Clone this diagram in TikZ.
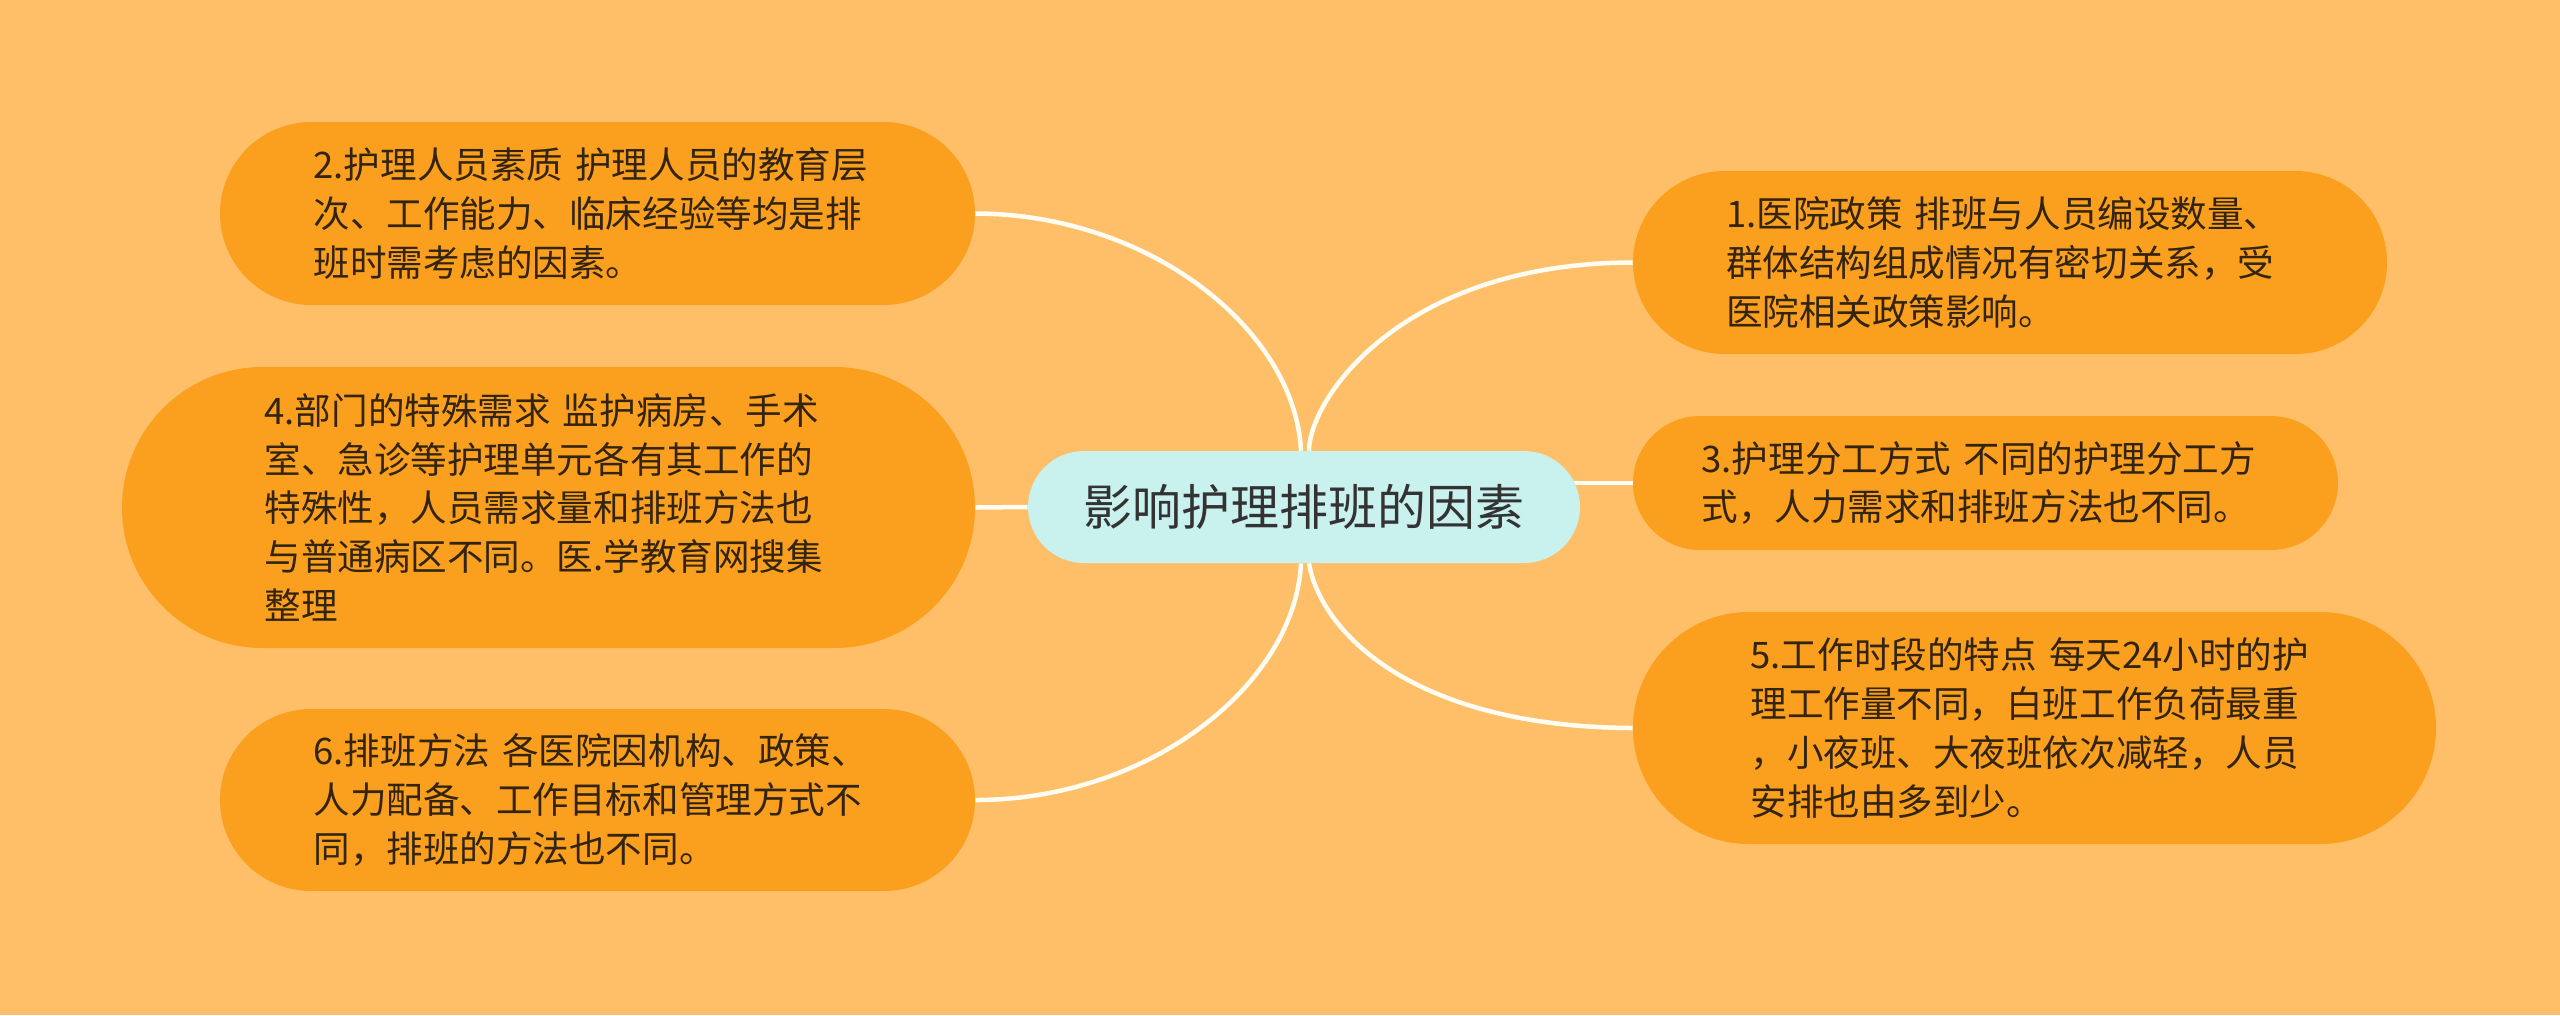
\documentclass[tikz,border=0pt]{standalone}
\usepackage{fontspec}
\usetikzlibrary{shapes.misc,backgrounds}
\newfontfamily\cjk{Noto Sans CJK SC}
\definecolor{bgc}{HTML}{FFBF69}
\definecolor{leafc}{HTML}{FAA01E}
\definecolor{rootc}{HTML}{C9F1EE}
\definecolor{txt}{HTML}{33240F}
\definecolor{roottxt}{HTML}{333333}
\definecolor{linkc}{HTML}{FFFCF2}
\begin{document}
\begin{tikzpicture}[x=0.25mm,y=-0.25mm,
 leaf/.style={rounded rectangle, fill=leafc, text=txt, font=\cjk\fontsize{26}{34.8}\selectfont, align=left, text width=142mm, inner sep=0pt},
 root/.style={rounded rectangle, fill=rootc, text=roottxt, font=\cjk\fontsize{34.8}{40}\selectfont, inner sep=0pt},
 link/.style={draw=linkc, line width=1.125mm}]
\useasboundingbox (0,0) rectangle (2560,1015);

\node[root, minimum width=138mm, minimum height=28mm] (c) at (1304,507) {影响护理排班的因素};

\node[leaf, minimum width=188.75mm, minimum height=45.75mm] (n2) at (597.5,213.5)
 {2.护理人员素质 护理人员的教育层\\次、工作能力、临床经验等均是排\\班时需考虑的因素。};
\node[leaf, minimum width=213.25mm, minimum height=70.25mm] (n4) at (548.5,507.5)
 {4.部门的特殊需求 监护病房、手术\\室、急诊等护理单元各有其工作的\\特殊性，人员需求量和排班方法也\\与普通病区不同。医.学教育网搜集\\整理};
\node[leaf, minimum width=188.75mm, minimum height=45.5mm] (n6) at (597.5,800)
 {6.排班方法 各医院因机构、政策、\\人力配备、工作目标和管理方式不\\同，排班的方法也不同。};
\node[leaf, minimum width=188.5mm, minimum height=45.75mm] (n1) at (2010,262.5)
 {1.医院政策 排班与人员编设数量、\\群体结构组成情况有密切关系，受\\医院相关政策影响。};
\node[leaf, minimum width=176.25mm, minimum height=33.5mm] (n3) at (1985.5,483)
 {3.护理分工方式 不同的护理分工方\\式，人力需求和排班方法也不同。};
\node[leaf, minimum width=200.75mm, minimum height=58mm] (n5) at (2034.5,728)
 {5.工作时段的特点 每天24小时的护\\理工作量不同，白班工作负荷最重\\，小夜班、大夜班依次减轻，人员\\安排也由多到少。};

\begin{scope}[on background layer]
\fill[bgc] (0,0) rectangle (2560,1015);
\draw[link] ([xshift=-0.75mm]c.north) .. controls (1295,330) and (1150,214) .. (n2.east);
\draw[link] ([xshift=1.25mm]c.north) .. controls (1309,400) and (1400,263) .. (n1.west);
\draw[link] (c.west) -- (n4.east);
\draw[link] (c.center |- n3.west) -- (n3.west);
\draw[link] ([xshift=-0.75mm]c.south) .. controls (1295,684) and (1150,800) .. (n6.east);
\draw[link] ([xshift=1.25mm]c.south) .. controls (1320,630) and (1410,727) .. (n5.west);
\end{scope}
\end{tikzpicture}
\end{document}
